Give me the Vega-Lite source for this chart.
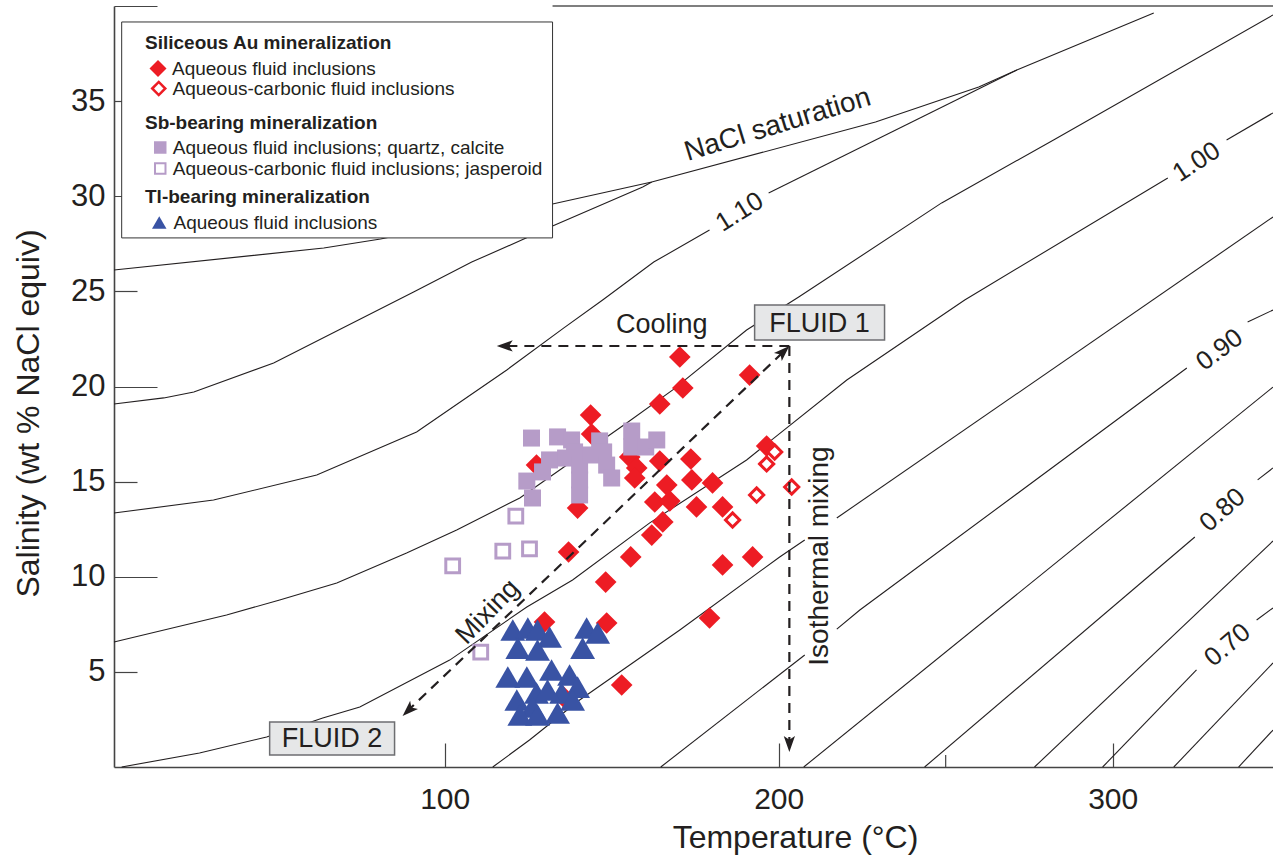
{
  "$schema": "https://vega.github.io/schema/vega-lite/v6.json",
  "width": 1159,
  "height": 761,
  "autosize": "none",
  "padding": {"left": 114, "top": 6, "right": 0, "bottom": 90},
  "background": "white",
  "config": {
    "view": {"stroke": null},
    "font": "Liberation Sans",
    "legend": {"titleFont": "Liberation Sans", "labelFont": "Liberation Sans", "titleFontSize": 19, "titleFontWeight": "bold", "labelFontSize": 19, "titleColor": "#231f20", "labelColor": "#231f20", "titleLimit": 600, "labelLimit": 600, "padding": 0, "rowPadding": 2, "titleAnchor": "start", "titlePadding": 6}
  },
  "datasets": {
    "lines": [
      {"seg": "nacl", "T": 1, "S": 26.12}, {"seg": "nacl", "T": 63.8, "S": 27.28}, {"seg": "nacl", "T": 80.8, "S": 27.75}, {"seg": "nacl", "T": 132.3, "S": 29.59}, {"seg": "nacl", "T": 162.0, "S": 30.75}, {"seg": "nacl", "T": 229.0, "S": 33.90}, {"seg": "nacl", "T": 259.9, "S": 35.74}, {"seg": "nacl", "T": 271.3, "S": 36.64}, {"seg": "nacl", "T": 312.3, "S": 39.63},
      {"seg": "b", "T": 1, "S": 19.08}, {"seg": "b", "T": 15.9, "S": 19.40}, {"seg": "b", "T": 24.9, "S": 19.71}, {"seg": "b", "T": 48.8, "S": 21.24}, {"seg": "b", "T": 90.7, "S": 24.97}, {"seg": "b", "T": 108.1, "S": 26.54}, {"seg": "b", "T": 123.7, "S": 27.75}, {"seg": "b", "T": 132.3, "S": 28.44}, {"seg": "b", "T": 159.3, "S": 30.49}, {"seg": "b", "T": 162.0, "S": 30.75},
      {"seg": "c1", "T": 1, "S": 13.35}, {"seg": "c1", "T": 30.8, "S": 14.03}, {"seg": "c1", "T": 61.7, "S": 15.35}, {"seg": "c1", "T": 91.6, "S": 17.61}, {"seg": "c1", "T": 118.6, "S": 20.87}, {"seg": "c1", "T": 135.6, "S": 23.07}, {"seg": "c1", "T": 147.3, "S": 24.55}, {"seg": "c1", "T": 162.6, "S": 26.54}, {"seg": "c1", "T": 179.3, "S": 28.23},
      {"seg": "c2", "T": 197.0, "S": 30.17}, {"seg": "c2", "T": 271.3, "S": 36.64},
      {"seg": "d", "T": 1, "S": 6.57}, {"seg": "d", "T": 34.7, "S": 7.99}, {"seg": "d", "T": 50.6, "S": 8.78}, {"seg": "d", "T": 67.7, "S": 9.67}, {"seg": "d", "T": 88.6, "S": 11.25}, {"seg": "d", "T": 103.6, "S": 12.46}, {"seg": "d", "T": 122.5, "S": 14.14}, {"seg": "d", "T": 154.5, "S": 18.08}, {"seg": "d", "T": 168.3, "S": 19.82}, {"seg": "d", "T": 190.4, "S": 22.97}, {"seg": "d", "T": 206.0, "S": 24.70}, {"seg": "d", "T": 248.8, "S": 29.65}, {"seg": "d", "T": 282.3, "S": 32.96}, {"seg": "d", "T": 348, "S": 39.53},
      {"seg": "e1", "T": 3.3, "S": 0}, {"seg": "e1", "T": 26.6, "S": 0.74}, {"seg": "e1", "T": 46.7, "S": 1.58}, {"seg": "e1", "T": 63.5, "S": 2.58}, {"seg": "e1", "T": 74.6, "S": 3.15}, {"seg": "e1", "T": 101.5, "S": 5.62}, {"seg": "e1", "T": 124.6, "S": 8.41}, {"seg": "e1", "T": 138.3, "S": 9.83}, {"seg": "e1", "T": 161.4, "S": 12.83}, {"seg": "e1", "T": 190.4, "S": 16.14}, {"seg": "e1", "T": 220.4, "S": 20.34}, {"seg": "e1", "T": 255.7, "S": 24.55}, {"seg": "e1", "T": 316.5, "S": 30.96},
      {"seg": "e2", "T": 334.1, "S": 32.96}, {"seg": "e2", "T": 348, "S": 34.38},
      {"seg": "f1", "T": 114.4, "S": 0}, {"seg": "f1", "T": 125.4, "S": 1.42}, {"seg": "f1", "T": 140.4, "S": 3.52}, {"seg": "f1", "T": 170.4, "S": 7.20}, {"seg": "f1", "T": 200.3, "S": 11.04}, {"seg": "f1", "T": 207.8, "S": 11.93},
      {"seg": "f2", "T": 217.4, "S": 13.09}, {"seg": "f2", "T": 348, "S": 28.91},
      {"seg": "g1", "T": 164.7, "S": 0}, {"seg": "g1", "T": 207.8, "S": 5.89},
      {"seg": "g2", "T": 217.4, "S": 7.25}, {"seg": "g2", "T": 224.3, "S": 8.25}, {"seg": "g2", "T": 322.2, "S": 20.97},
      {"seg": "g3", "T": 340.4, "S": 23.39}, {"seg": "g3", "T": 348, "S": 24.02},
      {"seg": "h", "T": 207.5, "S": 0}, {"seg": "h", "T": 348, "S": 19.97},
      {"seg": "i1", "T": 243.7, "S": 0}, {"seg": "i1", "T": 324.6, "S": 12.09},
      {"seg": "i2", "T": 343.4, "S": 15.09}, {"seg": "i2", "T": 348, "S": 15.72},
      {"seg": "j", "T": 276.6, "S": 0}, {"seg": "j", "T": 348, "S": 11.88},
      {"seg": "k1", "T": 297.0, "S": 0}, {"seg": "k1", "T": 325.1, "S": 5.10},
      {"seg": "k2", "T": 343.1, "S": 7.73}, {"seg": "k2", "T": 348, "S": 8.36},
      {"seg": "l", "T": 318.3, "S": 0}, {"seg": "l", "T": 348, "S": 5.47},
      {"seg": "m", "T": 337.7, "S": 0}, {"seg": "m", "T": 348, "S": 1.94}
    ],
    "arrows": [
      {"arrow": "cool", "i": 0, "T": 203.2, "S": 22.13}, {"arrow": "cool", "i": 1, "T": 117.0, "S": 22.13},
      {"arrow": "iso", "i": 0, "T": 203.2, "S": 22.13}, {"arrow": "iso", "i": 1, "T": 203.2, "S": 1.1},
      {"arrow": "mix", "i": 0, "T": 88.6, "S": 2.9}, {"arrow": "mix", "i": 1, "T": 202.2, "S": 21.95}
    ],
    "au": [
      {"type": "Aqueous fluid inclusions", "T": 170.4, "S": 21.55}, {"type": "Aqueous fluid inclusions", "T": 171.3, "S": 19.92}, {"type": "Aqueous fluid inclusions", "T": 164.4, "S": 19.08}, {"type": "Aqueous fluid inclusions", "T": 191.3, "S": 20.60}, {"type": "Aqueous fluid inclusions", "T": 143.7, "S": 18.50}, {"type": "Aqueous fluid inclusions", "T": 144.0, "S": 17.50}, {"type": "Aqueous fluid inclusions", "T": 127.5, "S": 15.87}, {"type": "Aqueous fluid inclusions", "T": 139.8, "S": 13.61}, {"type": "Aqueous fluid inclusions", "T": 137.1, "S": 11.30}, {"type": "Aqueous fluid inclusions", "T": 155.4, "S": 16.29}, {"type": "Aqueous fluid inclusions", "T": 157.5, "S": 15.72}, {"type": "Aqueous fluid inclusions", "T": 156.9, "S": 15.19}, {"type": "Aqueous fluid inclusions", "T": 164.4, "S": 16.08}, {"type": "Aqueous fluid inclusions", "T": 173.7, "S": 16.19}, {"type": "Aqueous fluid inclusions", "T": 174.0, "S": 15.09}, {"type": "Aqueous fluid inclusions", "T": 166.5, "S": 14.82}, {"type": "Aqueous fluid inclusions", "T": 162.9, "S": 13.93}, {"type": "Aqueous fluid inclusions", "T": 167.4, "S": 13.98}, {"type": "Aqueous fluid inclusions", "T": 175.4, "S": 13.67}, {"type": "Aqueous fluid inclusions", "T": 180.2, "S": 14.93}, {"type": "Aqueous fluid inclusions", "T": 183.2, "S": 13.67}, {"type": "Aqueous fluid inclusions", "T": 196.4, "S": 16.87}, {"type": "Aqueous fluid inclusions", "T": 165.3, "S": 12.88}, {"type": "Aqueous fluid inclusions", "T": 162.0, "S": 12.19}, {"type": "Aqueous fluid inclusions", "T": 155.7, "S": 11.04}, {"type": "Aqueous fluid inclusions", "T": 148.2, "S": 9.72}, {"type": "Aqueous fluid inclusions", "T": 183.2, "S": 10.62}, {"type": "Aqueous fluid inclusions", "T": 192.2, "S": 11.04}, {"type": "Aqueous fluid inclusions", "T": 179.3, "S": 7.83}, {"type": "Aqueous fluid inclusions", "T": 148.5, "S": 7.57}, {"type": "Aqueous fluid inclusions", "T": 153.0, "S": 4.31}, {"type": "Aqueous fluid inclusions", "T": 135.6, "S": 3.68}, {"type": "Aqueous fluid inclusions", "T": 129.9, "S": 7.62}
    ],
    "auc": [
      {"type": "Aqueous-carbonic fluid inclusions", "T": 198.8, "S": 16.56}, {"type": "Aqueous-carbonic fluid inclusions", "T": 196.4, "S": 15.93}, {"type": "Aqueous-carbonic fluid inclusions", "T": 193.4, "S": 14.30}, {"type": "Aqueous-carbonic fluid inclusions", "T": 203.9, "S": 14.72}, {"type": "Aqueous-carbonic fluid inclusions", "T": 186.2, "S": 12.98}
    ],
    "sb": [
      {"type": "Aqueous fluid inclusions; quartz, calcite", "T": 126.0, "S": 17.29}, {"type": "Aqueous fluid inclusions; quartz, calcite", "T": 133.8, "S": 17.35}, {"type": "Aqueous fluid inclusions; quartz, calcite", "T": 138.0, "S": 17.19}, {"type": "Aqueous fluid inclusions; quartz, calcite", "T": 138.9, "S": 16.56}, {"type": "Aqueous fluid inclusions; quartz, calcite", "T": 131.4, "S": 16.14}, {"type": "Aqueous fluid inclusions; quartz, calcite", "T": 129.3, "S": 15.51}, {"type": "Aqueous fluid inclusions; quartz, calcite", "T": 124.6, "S": 15.03}, {"type": "Aqueous fluid inclusions; quartz, calcite", "T": 126.3, "S": 14.14}, {"type": "Aqueous fluid inclusions; quartz, calcite", "T": 136.2, "S": 16.24}, {"type": "Aqueous fluid inclusions; quartz, calcite", "T": 140.4, "S": 15.87}, {"type": "Aqueous fluid inclusions; quartz, calcite", "T": 140.4, "S": 15.09}, {"type": "Aqueous fluid inclusions; quartz, calcite", "T": 140.4, "S": 14.30}, {"type": "Aqueous fluid inclusions; quartz, calcite", "T": 143.7, "S": 16.40}, {"type": "Aqueous fluid inclusions; quartz, calcite", "T": 146.4, "S": 17.14}, {"type": "Aqueous fluid inclusions; quartz, calcite", "T": 147.6, "S": 16.56}, {"type": "Aqueous fluid inclusions; quartz, calcite", "T": 148.5, "S": 15.87}, {"type": "Aqueous fluid inclusions; quartz, calcite", "T": 150.0, "S": 15.19}, {"type": "Aqueous fluid inclusions; quartz, calcite", "T": 156.0, "S": 17.66}, {"type": "Aqueous fluid inclusions; quartz, calcite", "T": 156.0, "S": 16.82}, {"type": "Aqueous fluid inclusions; quartz, calcite", "T": 160.2, "S": 16.82}, {"type": "Aqueous fluid inclusions; quartz, calcite", "T": 163.5, "S": 17.19}
    ],
    "sbc": [
      {"type": "Aqueous-carbonic fluid inclusions; jasperoid", "T": 121.3, "S": 13.19}, {"type": "Aqueous-carbonic fluid inclusions; jasperoid", "T": 117.4, "S": 11.35}, {"type": "Aqueous-carbonic fluid inclusions; jasperoid", "T": 125.4, "S": 11.46}, {"type": "Aqueous-carbonic fluid inclusions; jasperoid", "T": 102.4, "S": 10.57}, {"type": "Aqueous-carbonic fluid inclusions; jasperoid", "T": 110.8, "S": 6.04}
    ],
    "tl": [
      {"type": "Aqueous fluid inclusions", "T": 120.4, "S": 7.20}, {"type": "Aqueous fluid inclusions", "T": 124.9, "S": 7.31}, {"type": "Aqueous fluid inclusions", "T": 127.8, "S": 7.20}, {"type": "Aqueous fluid inclusions", "T": 131.4, "S": 6.83}, {"type": "Aqueous fluid inclusions", "T": 121.9, "S": 6.25}, {"type": "Aqueous fluid inclusions", "T": 127.8, "S": 6.15}, {"type": "Aqueous fluid inclusions", "T": 142.5, "S": 7.31}, {"type": "Aqueous fluid inclusions", "T": 145.8, "S": 7.04}, {"type": "Aqueous fluid inclusions", "T": 141.3, "S": 6.25}, {"type": "Aqueous fluid inclusions", "T": 118.9, "S": 4.73}, {"type": "Aqueous fluid inclusions", "T": 124.6, "S": 4.73}, {"type": "Aqueous fluid inclusions", "T": 132.0, "S": 5.10}, {"type": "Aqueous fluid inclusions", "T": 137.4, "S": 4.84}, {"type": "Aqueous fluid inclusions", "T": 139.8, "S": 4.20}, {"type": "Aqueous fluid inclusions", "T": 121.6, "S": 3.52}, {"type": "Aqueous fluid inclusions", "T": 127.5, "S": 3.89}, {"type": "Aqueous fluid inclusions", "T": 126.3, "S": 3.15}, {"type": "Aqueous fluid inclusions", "T": 135.0, "S": 3.89}, {"type": "Aqueous fluid inclusions", "T": 138.3, "S": 3.52}, {"type": "Aqueous fluid inclusions", "T": 122.5, "S": 2.73}, {"type": "Aqueous fluid inclusions", "T": 127.8, "S": 2.73}, {"type": "Aqueous fluid inclusions", "T": 133.8, "S": 2.84}, {"type": "Aqueous fluid inclusions", "T": 130.8, "S": 4.05}
    ]
  },
  "encoding": {
    "x": {
      "field": "T", "type": "quantitative",
      "scale": {"domain": [1, 348], "nice": false, "zero": false},
      "axis": {
        "title": "Temperature (°C)", "values": [100, 200, 300], "grid": false, "labelFlush": false,
        "tickSize": -24, "tickWidth": 1.2, "tickColor": "#444444", "domainColor": "#444444", "domainWidth": 1.6,
        "labelFont": "Liberation Sans", "labelFontSize": 30, "labelColor": "#231f20", "labelPadding": 41,
        "titleFont": "Liberation Sans", "titleFontSize": 32, "titleFontWeight": "normal", "titleColor": "#231f20",
        "titleX": 681, "titleY": 70, "titleBaseline": "middle", "titleAlign": "center"
      }
    },
    "y": {
      "field": "S", "type": "quantitative",
      "scale": {"domain": [0, 40], "nice": false, "zero": false},
      "axis": {
        "title": "Salinity (wt % NaCl equiv)", "values": [5, 10, 15, 20, 25, 30, 35, 40], "grid": false, "labelFlush": false,
        "labelExpr": "datum.value == 40 ? '' : datum.label",
        "tickSize": {"condition": {"test": "datum.value % 10 === 0", "value": -43}, "value": -23},
        "labelPadding": {"condition": {"test": "datum.value % 10 === 0", "value": 52}, "value": 32},
        "tickWidth": 1.2, "tickColor": "#444444", "domainColor": "#444444", "domainWidth": 1.6,
        "labelFont": "Liberation Sans", "labelFontSize": 31, "labelColor": "#231f20",
        "titleFont": "Liberation Sans", "titleFontSize": 32, "titleFontWeight": "normal", "titleColor": "#231f20",
        "titleX": -86, "titleY": 407, "titleAngle": 270, "titleBaseline": "middle", "titleAlign": "center"
      }
    }
  },
  "layer": [
    {"data": {"name": "lines"}, "mark": {"type": "line", "color": "#231f20", "strokeWidth": 1.1}, "encoding": {"detail": {"field": "seg"}}},
    {"data": {"values": [{"T": 132.3, "S": 40}, {"T": 348, "S": 40}]}, "mark": {"type": "line", "color": "#555555", "strokeWidth": 1.4}, "encoding": {}},
    {"data": {"values": [{"T": 250, "S": 0, "S2": 0.63}]}, "mark": {"type": "rule", "color": "#444444", "strokeWidth": 1.2}, "encoding": {"y2": {"field": "S2"}}},
    {"data": {"name": "au"}, "mark": {"type": "point", "shape": "diamond", "filled": true, "size": 470, "opacity": 1, "strokeWidth": 0},
     "encoding": {"fill": {"field": "type", "type": "nominal", "scale": {"range": ["#ed1c24"]},
       "legend": {"orient": "none", "legendX": 31, "legendY": 28, "title": "Siliceous Au mineralization", "titlePadding": 6, "symbolType": "diamond", "symbolSize": 289, "symbolStrokeWidth": 0, "symbolOffset": 3.5, "labelOffset": 4.5}}}},
    {"data": {"name": "sb"}, "mark": {"type": "point", "shape": "square", "filled": true, "size": 289, "opacity": 1, "strokeWidth": 0},
     "encoding": {"fill": {"field": "type", "type": "nominal", "scale": {"range": ["#b69cc8"]},
       "legend": {"orient": "none", "legendX": 31, "legendY": 108, "title": "Sb-bearing mineralization", "titlePadding": 5, "symbolType": "square", "symbolSize": 156, "symbolStrokeWidth": 0, "symbolOffset": 5.75, "labelOffset": 3}}}},
    {"data": {"name": "sbc"}, "mark": {"type": "point", "shape": "square", "filled": true, "size": 190, "opacity": 1, "stroke": "#b69cc8", "strokeWidth": 3},
     "encoding": {"fill": {"field": "type", "type": "nominal", "scale": {"range": ["#ffffff"]},
       "legend": {"orient": "none", "legendX": 31, "legendY": 153, "title": null, "symbolType": "square", "symbolSize": 110, "symbolStrokeColor": "#b69cc8", "symbolStrokeWidth": 2, "symbolOffset": 5.75, "labelOffset": 3}}}},
    {"data": {"name": "auc"}, "mark": {"type": "point", "shape": "diamond", "filled": true, "size": 200, "opacity": 1, "stroke": "#ed1c24", "strokeWidth": 3},
     "encoding": {"fill": {"field": "type", "type": "nominal", "scale": {"range": ["#ffffff"]},
       "legend": {"orient": "none", "legendX": 31, "legendY": 73, "title": null, "symbolType": "diamond", "symbolSize": 170, "symbolStrokeColor": "#ed1c24", "symbolStrokeWidth": 2.5, "symbolOffset": 4.25, "labelOffset": 4.25}}}},
    {"data": {"name": "tl"}, "mark": {"type": "point", "shape": "triangle-up", "filled": true, "size": 620, "opacity": 1, "strokeWidth": 0},
     "encoding": {"fill": {"field": "type", "type": "nominal", "scale": {"range": ["#3953a4"]},
       "legend": {"orient": "none", "legendX": 31, "legendY": 182, "title": "Tl-bearing mineralization", "titlePadding": 6, "symbolType": "triangle-up", "symbolSize": 210, "symbolStrokeWidth": 0, "symbolOffset": 4.75, "labelOffset": 4.75}}}},
    {"data": {"name": "arrows"}, "mark": {"type": "line", "color": "#231f20", "strokeWidth": 2.2, "strokeDash": [10, 7]}, "encoding": {"detail": {"field": "arrow"}, "order": {"field": "i"}}},
    {"data": {"values": [{"T": 115.6, "S": 22.13}]}, "mark": {"type": "point", "shape": "M0,0L0.6,1.7L0,1.3L-0.6,1.7Z", "size": 353, "angle": 270, "filled": true, "color": "#231f20", "opacity": 1, "strokeWidth": 0}},
    {"data": {"values": [{"T": 203.2, "S": 0.79}]}, "mark": {"type": "point", "shape": "M0,0L0.6,1.7L0,1.3L-0.6,1.7Z", "size": 353, "angle": 180, "filled": true, "color": "#231f20", "opacity": 1, "strokeWidth": 0}},
    {"data": {"values": [{"T": 87.4, "S": 2.68}]}, "mark": {"type": "point", "shape": "M0,0L0.6,1.7L0,1.3L-0.6,1.7Z", "size": 353, "angle": 226, "filled": true, "color": "#231f20", "opacity": 1, "strokeWidth": 0}},
    {"data": {"values": [{"T": 203.2, "S": 22.13}]}, "mark": {"type": "point", "shape": "M0,0L0.6,1.7L0,1.3L-0.6,1.7Z", "size": 353, "angle": 46, "filled": true, "color": "#231f20", "opacity": 1, "strokeWidth": 0}},
    {"data": {"values": [{"T": 3.3, "T2": 132.3, "S": 27.81, "S2": 39.16}]}, "mark": {"type": "rect", "fill": "#ffffff", "stroke": "#333333", "strokeWidth": 1}, "encoding": {"x2": {"field": "T2"}, "y2": {"field": "S2"}}},
    {"data": {"values": [{"T": 192.8, "T2": 231.7, "S": 22.44, "S2": 24.28}, {"T": 47.6, "T2": 85.0, "S": 0.63, "S2": 2.37}]}, "mark": {"type": "rect", "fill": "#e6e7e8", "stroke": "#6d6e71", "strokeWidth": 1.5}, "encoding": {"x2": {"field": "T2"}, "y2": {"field": "S2"}}},
    {"data": {"values": [{"label": "FLUID 1", "T": 212.25, "S": 23.3}, {"label": "FLUID 2", "T": 66.3, "S": 1.45}]}, "mark": {"type": "text", "font": "Liberation Sans", "fontSize": 27, "color": "#231f20", "align": "center", "baseline": "middle"}, "encoding": {"text": {"field": "label"}}},
    {"data": {"values": [{"label": "Cooling", "T": 165.0, "S": 23.23}]}, "mark": {"type": "text", "font": "Liberation Sans", "fontSize": 27, "color": "#231f20", "align": "center", "baseline": "middle"}, "encoding": {"text": {"field": "label"}}},
    {"data": {"values": [{"label": "Mixing", "T": 112.9, "S": 8.15}]}, "mark": {"type": "text", "font": "Liberation Sans", "fontSize": 27, "color": "#231f20", "align": "center", "baseline": "middle", "angle": 314}, "encoding": {"text": {"field": "label"}}},
    {"data": {"values": [{"label": "Isothermal mixing", "T": 212.3, "S": 11.09}]}, "mark": {"type": "text", "font": "Liberation Sans", "fontSize": 28, "color": "#231f20", "align": "center", "baseline": "middle", "angle": 270}, "encoding": {"text": {"field": "label"}}},
    {"data": {"values": [{"label": "NaCl saturation", "T": 199.7, "S": 33.74}]}, "mark": {"type": "text", "font": "Liberation Sans", "fontSize": 28, "color": "#231f20", "align": "center", "baseline": "middle", "angle": 343}, "encoding": {"text": {"field": "label"}}},
    {"data": {"values": [{"label": "1.10", "T": 188.3, "S": 29.17}]}, "mark": {"type": "text", "font": "Liberation Sans", "fontSize": 26, "color": "#231f20", "align": "center", "baseline": "middle", "angle": 328}, "encoding": {"text": {"field": "label"}}},
    {"data": {"values": [{"label": "1.00", "T": 325.1, "S": 31.8}]}, "mark": {"type": "text", "font": "Liberation Sans", "fontSize": 26, "color": "#231f20", "align": "center", "baseline": "middle", "angle": 327}, "encoding": {"text": {"field": "label"}}},
    {"data": {"values": [{"label": "0.90", "T": 332.0, "S": 21.92}]}, "mark": {"type": "text", "font": "Liberation Sans", "fontSize": 26, "color": "#231f20", "align": "center", "baseline": "middle", "angle": 323}, "encoding": {"text": {"field": "label"}}},
    {"data": {"values": [{"label": "0.80", "T": 332.9, "S": 13.51}]}, "mark": {"type": "text", "font": "Liberation Sans", "fontSize": 26, "color": "#231f20", "align": "center", "baseline": "middle", "angle": 318}, "encoding": {"text": {"field": "label"}}},
    {"data": {"values": [{"label": "0.70", "T": 334.4, "S": 6.41}]}, "mark": {"type": "text", "font": "Liberation Sans", "fontSize": 26, "color": "#231f20", "align": "center", "baseline": "middle", "angle": 320}, "encoding": {"text": {"field": "label"}}}
  ],
  "resolve": {"scale": {"fill": "independent"}, "legend": {"fill": "independent"}}
}
